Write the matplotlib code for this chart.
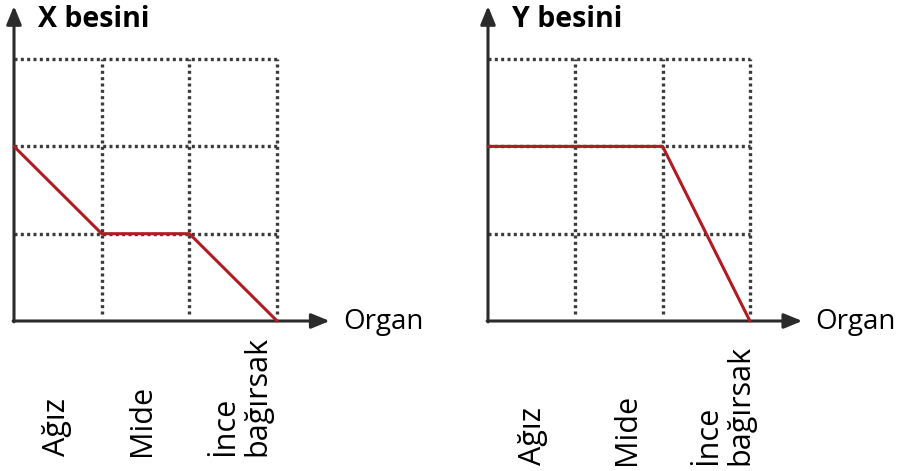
import matplotlib
matplotlib.use("Agg")
import matplotlib.pyplot as plt
from matplotlib.transforms import blended_transform_factory

# ---- data ----
organs = ["Ağız", "Mide", "İnce\nbağırsak"]
x_points = [0, 1, 2, 3]
x_besini = [2, 1, 1, 0]
y_besini = [2, 2, 2, 0]
titles = ["X besini", "Y besini"]
xlabel = "Organ"
grid_levels = [1, 2, 3]

W, H = 917, 471
fig = plt.figure(figsize=(W / 100, H / 100), dpi=100)
fig.patch.set_facecolor("white")

FONT = "Open Sans"
RED = "#b01c24"
AX = "#2b2b2b"
GRID = "#3a3a3a"

# layout (pixels): origin x, origin y, unit size, label x positions (data), label bottom y
panels = [
    dict(ox=14, oy=321, ux=87.7, uy=87.3, lab_x=[0.49, 1.46, 2.59], lab_y=456, values=x_besini),
    dict(ox=488, oy=321, ux=87.3, uy=87.3, lab_x=[0.52, 1.59, 2.71], lab_y=465, values=y_besini),
]

for p, title in zip(panels, titles):
    left = p["ox"] / W
    bottom = (H - p["oy"]) / H
    ax = fig.add_axes([left, bottom, 3 * p["ux"] / W, 3 * p["uy"] / H])
    ax.set_xlim(0, 3)
    ax.set_ylim(0, 3)
    ax.axis("off")

    # dotted grid
    for g in grid_levels:
        ax.plot([0, 3], [g, g], color=GRID, lw=2.4, linestyle=(0, (0.9, 1.0)),
                dash_capstyle="butt", zorder=1, clip_on=False)
        ax.plot([g, g], [0.08, 3], color=GRID, lw=2.4, linestyle=(0, (0.9, 1.0)),
                dash_capstyle="butt", zorder=1, clip_on=False)

    # axes with arrows
    xt = 3.6
    yt = (p["oy"] - 6) / p["uy"]
    ax.annotate("", xy=(xt, 0), xytext=(-0.01, 0), xycoords="data",
                arrowprops=dict(arrowstyle="-|>,head_length=1.1,head_width=0.45",
                                color=AX, lw=2.2, shrinkA=0, shrinkB=0),
                annotation_clip=False, zorder=3)
    ax.annotate("", xy=(0, yt), xytext=(0, -0.01), xycoords="data",
                arrowprops=dict(arrowstyle="-|>,head_length=1.1,head_width=0.45",
                                color=AX, lw=2.2, shrinkA=0, shrinkB=0),
                annotation_clip=False, zorder=3)

    # data line
    ax.plot(x_points, p["values"], color=RED, lw=2.2, zorder=4, clip_on=False,
            solid_capstyle="round", solid_joinstyle="round")

    # title
    ax.text(0.27, (p["oy"] - 19) / p["uy"], title, fontsize=20.5, fontweight="bold",
            family=FONT, ha="left", va="center", color="#000000")

    # x label
    ax.text(3.75, -0.01, xlabel, fontsize=20, family=FONT, ha="left", va="center",
            color="#000000")

    # category labels
    trans = blended_transform_factory(ax.transData, fig.transFigure)
    for lx, name in zip(p["lab_x"], organs):
        ax.text(lx, (H - p["lab_y"]) / H, name, rotation=90, fontsize=22, family=FONT,
                ha="center", va="bottom", multialignment="left", linespacing=1.1,
                transform=trans, color="#000000")

fig.savefig("out.png", dpi=100, facecolor="white")
